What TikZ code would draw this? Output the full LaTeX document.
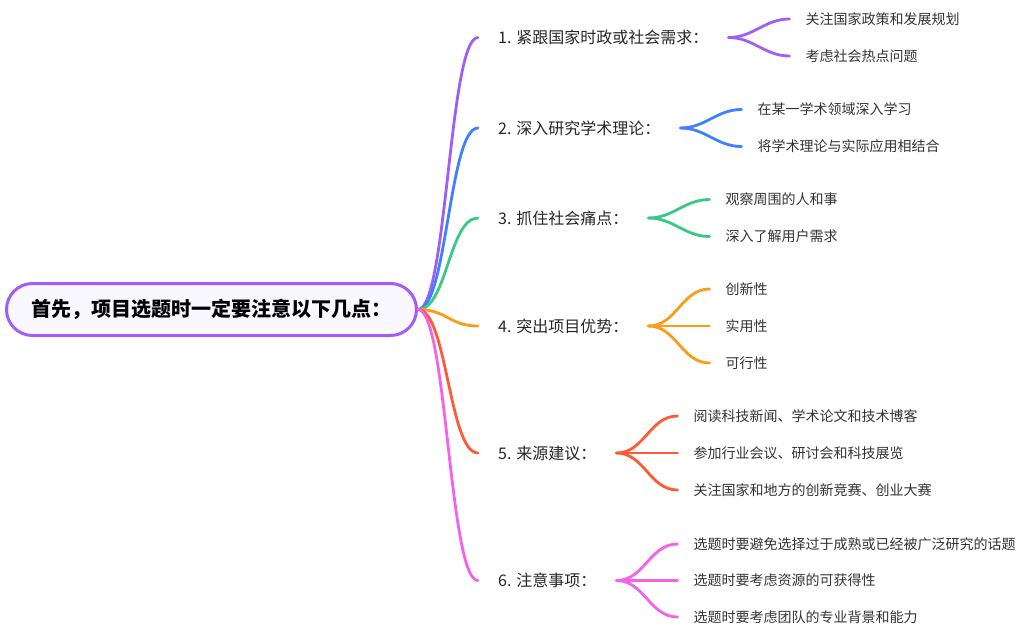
\documentclass[tikz,border=0pt]{standalone}
\usepackage{fontspec}
\setmainfont{Noto Sans CJK SC}
\definecolor{mmpurple}{RGB}{160,94,246}
\definecolor{mmblue}{RGB}{62,128,255}
\definecolor{mmgreen}{RGB}{56,202,132}
\definecolor{mmorange}{RGB}{250,156,22}
\definecolor{mmred}{RGB}{255,90,56}
\definecolor{mmpink}{RGB}{244,98,232}
\definecolor{mmroot}{RGB}{249,247,255}
\usepackage{tikz}
\usetikzlibrary{positioning}

\begin{document}
\begin{tikzpicture}[x=1pt,y=-1pt,
  rootbox/.style={draw=mmpurple,line width=3pt,fill=mmroot,rounded corners=26pt,minimum width=410pt,minimum height=52pt,inner sep=0pt,font=\fontsize{20}{20}\selectfont\bfseries},
  topic/.style={anchor=west,inner xsep=20pt,inner ysep=0pt,text=black!85,font=\fontsize{16}{16}\selectfont},
  leaf/.style={inner xsep=16pt,inner ysep=0pt,text=black!80,font=\fontsize{14}{14}\selectfont},
  branch/.style={line width=2.8pt,line cap=round},
  trunk/.style={branch,out=0,in=180,distance=29pt}]
  \useasboundingbox (0,0) rectangle (1036,637);
  \node[rootbox] (root) at (211.5,309.5) {首先，项目选题时一定要注意以下几点：};
  % main topics
  \node[topic] (t1) at (478,37.5) {1. 紧跟国家时政或社会需求：};
  \node[topic] (t2) at (478,128) {2. 深入研究学术理论：};
  \node[topic] (t3) at (478,218) {3. 抓住社会痛点：};
  \node[topic] (t4) at (478,326) {4. 突出项目优势：};
  \node[topic] (t5) at (478,453) {5. 来源建议：};
  \node[topic] (t6) at (478,580.5) {6. 注意事项：};
  \draw[mmpurple,trunk] (root.east) to (t1.west);
  \draw[mmblue,trunk] (root.east) to (t2.west);
  \draw[mmgreen,trunk] (root.east) to (t3.west);
  \draw[mmorange,trunk] (root.east) to (t4.west);
  \draw[mmred,trunk] (root.east) to (t5.west);
  \draw[mmpink,trunk] (root.east) to (t6.west);
  % leaves
  \node[leaf,right=61pt of t1,yshift=18.5pt] (t1a) {关注国家政策和发展规划};
  \node[leaf,right=61pt of t1,yshift=-18.5pt] (t1b) {考虑社会热点问题};
  \node[leaf,right=61pt of t2,yshift=18.5pt] (t2a) {在某一学术领域深入学习};
  \node[leaf,right=61pt of t2,yshift=-18.5pt] (t2b) {将学术理论与实际应用相结合};
  \node[leaf,right=61pt of t3,yshift=18.5pt] (t3a) {观察周围的人和事};
  \node[leaf,right=61pt of t3,yshift=-18.5pt] (t3b) {深入了解用户需求};
  \node[leaf,right=61pt of t4,yshift=37pt] (t4a) {创新性};
  \node[leaf,right=61pt of t4] (t4b) {实用性};
  \node[leaf,right=61pt of t4,yshift=-37pt] (t4c) {可行性};
  \node[leaf,right=61pt of t5,yshift=37pt] (t5a) {阅读科技新闻、学术论文和技术博客};
  \node[leaf,right=61pt of t5] (t5b) {参加行业会议、研讨会和科技展览};
  \node[leaf,right=61pt of t5,yshift=-37pt] (t5c) {关注国家和地方的创新竞赛、创业大赛};
  \node[leaf,right=61pt of t6,yshift=36.5pt] (t6a) {选题时要避免选择过于成熟或已经被广泛研究的话题};
  \node[leaf,right=61pt of t6] (t6b) {选题时要考虑资源的可获得性};
  \node[leaf,right=61pt of t6,yshift=-36.5pt] (t6c) {选题时要考虑团队的专业背景和能力};
  \draw[mmpurple,branch] (t1.east) to[out=0,in=180] (t1a.west);
  \draw[mmpurple,branch] (t1.east) to[out=0,in=180] (t1b.west);
  \draw[mmblue,branch] (t2.east) to[out=0,in=180] (t2a.west);
  \draw[mmblue,branch] (t2.east) to[out=0,in=180] (t2b.west);
  \draw[mmgreen,branch] (t3.east) to[out=0,in=180] (t3a.west);
  \draw[mmgreen,branch] (t3.east) to[out=0,in=180] (t3b.west);
  \draw[mmorange,branch] (t4.east) to[out=0,in=180] (t4a.west);
  \draw[mmorange,branch] (t4.east) -- (t4b.west);
  \draw[mmorange,branch] (t4.east) to[out=0,in=180] (t4c.west);
  \draw[mmred,branch] (t5.east) to[out=0,in=180] (t5a.west);
  \draw[mmred,branch] (t5.east) -- (t5b.west);
  \draw[mmred,branch] (t5.east) to[out=0,in=180] (t5c.west);
  \draw[mmpink,branch] (t6.east) to[out=0,in=180] (t6a.west);
  \draw[mmpink,branch] (t6.east) -- (t6b.west);
  \draw[mmpink,branch] (t6.east) to[out=0,in=180] (t6c.west);
\end{tikzpicture}
\end{document}
